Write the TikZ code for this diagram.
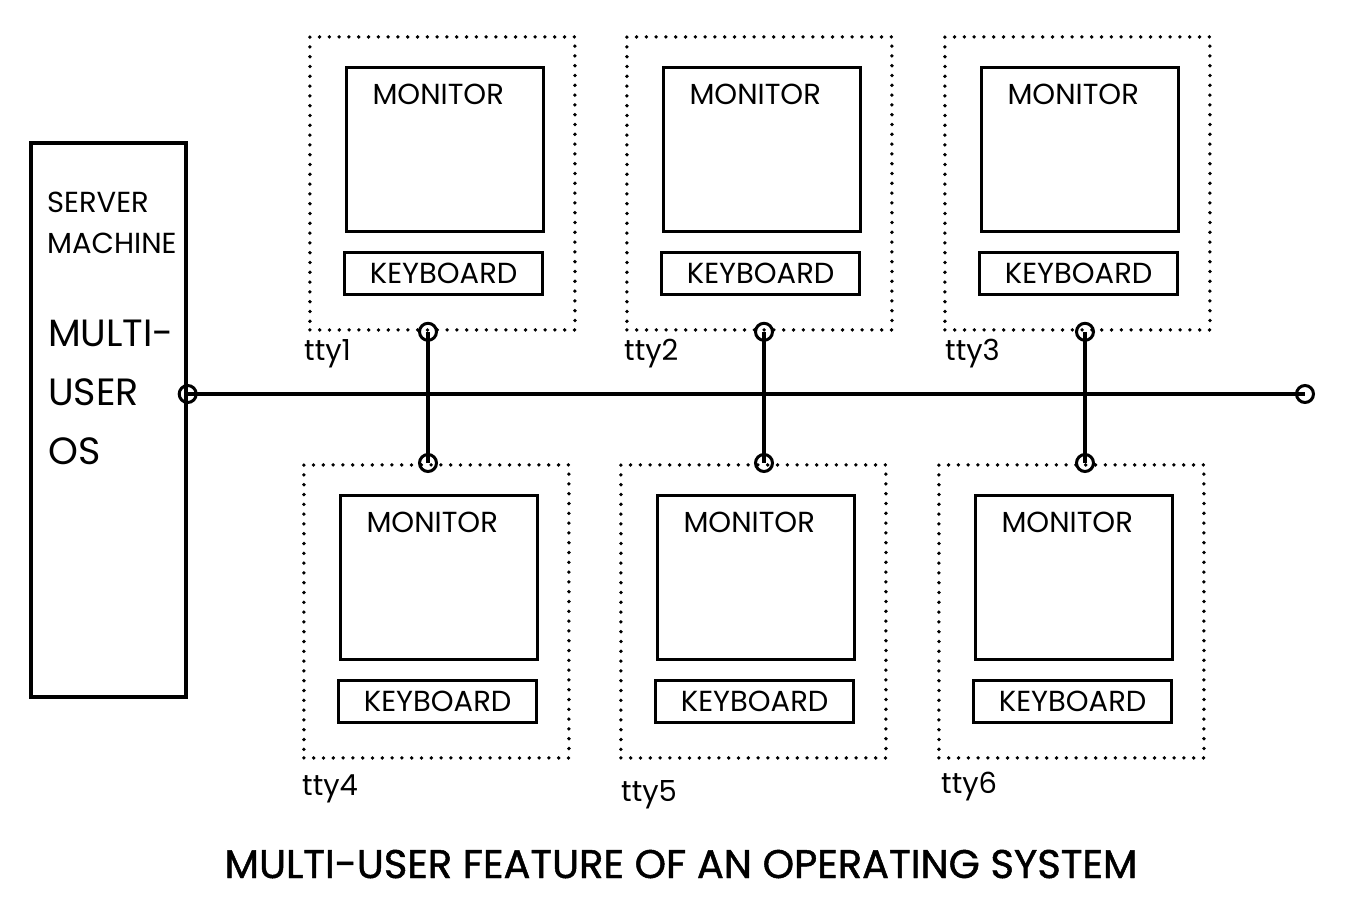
\documentclass[tikz,border=0pt]{standalone}
\usepackage{fontspec}
\setmainfont{Poppins}
\begin{document}
\begin{tikzpicture}[x=1pt,y=-1pt,
  box/.style={draw, line width=3.4pt, rectangle, inner sep=0pt},
  dotbox/.style={draw, line width=3.8pt, rectangle, inner sep=0pt, line cap=round, dash pattern=on 0pt off 9.8pt},
  lbl/.style={inner sep=0pt, font=\fontsize{29}{32}\selectfont},
  big/.style={inner sep=0pt, font=\fontsize{38}{42}\selectfont},
  ttl/.style={inner sep=0pt, font=\fontsize{40}{44}\selectfont\addfontfeatures{FakeBold=1.2}},
  port/.style={circle, draw, line width=3pt, minimum size=17pt, inner sep=0pt},
  wire/.style={line width=3.4pt}]
\useasboundingbox (0,0) rectangle (1345,905);
% server
\node[box, minimum width=155pt, minimum height=554pt] (server) at (108.5,420) {};
\node[lbl, anchor=base west] (s1) at (47,212) {SERVER};
\node[lbl, anchor=base west] (s2) at (47,253) {MACHINE};
\node[big, anchor=base west] (s3) at (48,346) {MULTI-};
\node[big, anchor=base west] (s4) at (48,405) {USER};
\node[big, anchor=base west] (s5) at (48,464) {OS};
% terminals
\foreach \x/\y/\n/\lx/\ly in {308/35/1/304/360, 625/35/2/624/360, 943/35/3/945/360, 302/463/4/302/795, 619/463/5/621/801, 937/463/6/941/793} {
  \node[dotbox, anchor=north west, minimum width=265pt, minimum height=293pt] (tty\n) at (\x,\y) {};
  \node[box, anchor=north west, minimum width=197pt, minimum height=164pt] (mon\n) at ([xshift=37pt,yshift=-31pt]tty\n.north west) {};
  \node[box, anchor=north west, minimum width=198pt, minimum height=42pt, lbl] (kb\n) at ([xshift=35pt,yshift=-216pt]tty\n.north west) {KEYBOARD};
  \node[lbl, anchor=base] (mt\n) at ([xshift=-7pt,yshift=-38pt]mon\n.north) {MONITOR};
  \node[lbl, anchor=base west] (tl\n) at (\lx,\ly) {tty\n};
}
% bus
\coordinate (busL) at ([yshift=26pt]server.east);
\coordinate (busR) at (1305,394);
\draw[wire] (busL) -- (busR);
\node[port] at (busL) {};
\node[port] at (busR) {};
% drops
\foreach \a/\b/\d in {1/4/120, 2/5/139, 3/6/142} {
  \draw[wire] ([xshift=\d pt]tty\a.south west) coordinate (u\a) -- (u\a |- tty\b.north) coordinate (v\a);
  \node[port] at (u\a) {};
  \node[port] at (v\a) {};
}
% title
\node[ttl, anchor=base] (title) at (681,878) {MULTI-USER FEATURE OF AN OPERATING SYSTEM};
\end{tikzpicture}
\end{document}
